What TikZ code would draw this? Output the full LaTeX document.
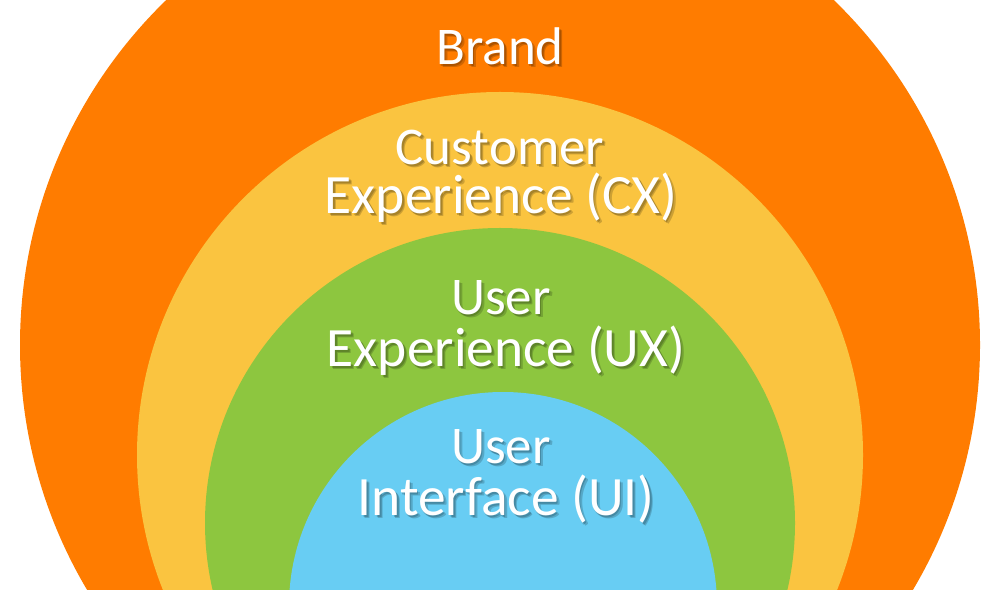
\documentclass[tikz,border=0pt]{standalone}
\usepackage{fontspec}
\setmainfont{Carlito}
\usepackage{xcolor}
\usetikzlibrary{positioning}
\definecolor{brandorange}{RGB}{255,124,0}
\definecolor{cxyellow}{RGB}{250,196,64}
\definecolor{uxgreen}{RGB}{141,198,63}
\definecolor{uiblue}{RGB}{104,205,243}
\tikzset{
    lbl/.style={text=white, anchor=base, inner sep=0pt, font=\fontsize{#1}{#1}\selectfont},
    lblshadow/.style={lbl=#1, text=black, opacity=0.18}
}

\begin{document}
\begin{tikzpicture}[x=1pt, y=1pt]
    \useasboundingbox (0,0) rectangle (1000,589);
    \clip (0,0) rectangle (1000,589);
    % nested circles
    \fill[brandorange] (500,244) circle[radius=480pt];
    \fill[cxyellow] (500,134) circle[radius=363pt];
    \fill[uxgreen] (500,66) circle[radius=295pt];
    \fill[uiblue] (503,-17) circle[radius=214pt];

    % labels, each with a soft shadow
    \foreach \name/\xpos/\ypos/\fs/\txt in {brand/500/524/53/Brand, cxa/500/424/53/Customer,
        cxb/501/375/55.5/Experience (CX), uxa/501/274/53/User, uxb/506/222/55.5/Experience (UX),
        uia/501/125/53/User, uib/506/74/55.5/Interface (UI)} {
        \foreach \dx/\dy in {1.5/-2, 3/-3} {
            \node[lblshadow=\fs] at (\xpos+\dx,\ypos+\dy) {\txt};
        }
        \node[lbl=\fs] (\name) at (\xpos,\ypos) {\txt};
    }
\end{tikzpicture}
\end{document}
